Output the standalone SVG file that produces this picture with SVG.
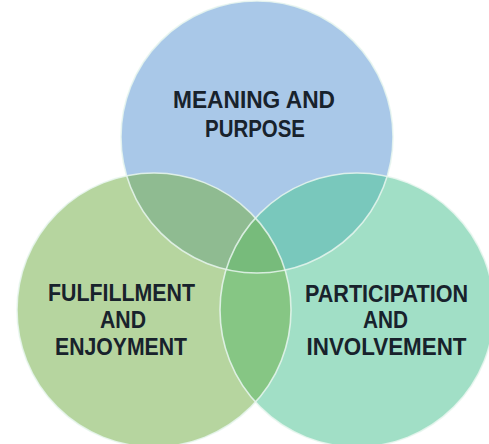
<svg xmlns="http://www.w3.org/2000/svg" width="489" height="444" viewBox="0 0 489 444">
  <style>
    .lbl { font-family: "Liberation Sans", Arial, sans-serif; font-weight: bold; font-size: 23px; fill: #18222c; text-anchor: middle; }
    .edge { fill: none; stroke: #e8f6ee; stroke-width: 1.6; stroke-opacity: 0.85; }
  </style>
  <defs>
    <circle id="cTop" cx="257" cy="137" r="136"/>
    <circle id="cLeft" cx="154" cy="310" r="137"/>
    <circle id="cRight" cx="357" cy="310" r="137"/>
    <clipPath id="clipTop"><use href="#cTop"/></clipPath>
    <clipPath id="clipLeft"><use href="#cLeft"/></clipPath>
    <clipPath id="clipRight"><use href="#cRight"/></clipPath>
  </defs>
  <rect width="489" height="444" fill="#ffffff"/>

  <!-- base discs -->
  <g id="meaning">
    <use href="#cTop" fill="#a9c8e8"/>
  </g>
  <g id="fulfillment">
    <use href="#cLeft" fill="#b6d59f"/>
  </g>
  <g id="participation">
    <use href="#cRight" fill="#a1dfc6"/>
  </g>

  <!-- overlap regions -->
  <g id="overlaps">
    <g clip-path="url(#clipTop)"><use href="#cLeft" fill="#8fbb91"/></g>
    <g clip-path="url(#clipTop)"><use href="#cRight" fill="#79c8bc"/></g>
    <g clip-path="url(#clipLeft)"><use href="#cRight" fill="#86c684"/></g>
    <g clip-path="url(#clipLeft)"><g clip-path="url(#clipTop)"><use href="#cRight" fill="#77bb7b"/></g></g>
  </g>

  <!-- light rims -->
  <g id="rims">
    <use href="#cTop" class="edge"/>
    <use href="#cLeft" class="edge"/>
    <use href="#cRight" class="edge"/>
  </g>

  <g id="labels">
    <text class="lbl" x="254" y="108" textLength="162" lengthAdjust="spacingAndGlyphs">MEANING AND</text>
    <text class="lbl" x="255" y="137" textLength="100" lengthAdjust="spacingAndGlyphs">PURPOSE</text>
    <text class="lbl" x="121.5" y="301" textLength="147" lengthAdjust="spacingAndGlyphs">FULFILLMENT</text>
    <text class="lbl" x="123" y="328" textLength="46" lengthAdjust="spacingAndGlyphs">AND</text>
    <text class="lbl" x="121" y="355" textLength="132" lengthAdjust="spacingAndGlyphs">ENJOYMENT</text>
    <text class="lbl" x="386.5" y="302" textLength="163" lengthAdjust="spacingAndGlyphs">PARTICIPATION</text>
    <text class="lbl" x="385.5" y="328" textLength="45" lengthAdjust="spacingAndGlyphs">AND</text>
    <text class="lbl" x="386.5" y="355" textLength="160" lengthAdjust="spacingAndGlyphs">INVOLVEMENT</text>
  </g>
</svg>
